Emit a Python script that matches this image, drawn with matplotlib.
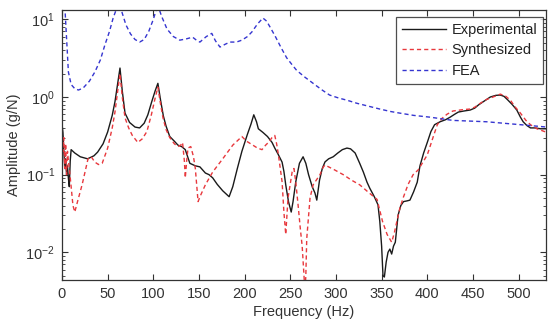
import numpy as np
import matplotlib
matplotlib.use("Agg")
import matplotlib.pyplot as plt
from matplotlib.ticker import LogLocator, FixedLocator, NullFormatter

plt.rcParams['font.family'] = ['Liberation Sans', 'DejaVu Sans']
plt.rcParams['mathtext.default'] = 'regular'

# ---------------- data ----------------
exp_f = [0, 1, 2, 3, 4, 5, 6, 7, 8, 9, 10, 12, 14, 20, 28, 35, 39, 45, 50, 55, 58, 61, 63.5, 66,
         69, 74, 80, 85, 90, 94, 98, 102, 105, 108, 111, 114, 118, 123, 127, 131, 135, 140, 146,
         151, 157, 161, 165, 170, 176, 180, 183, 187, 192, 197, 203, 207, 210, 213, 215, 220, 225,
         230, 233, 237, 241, 243, 245, 248, 251, 253, 256, 260, 264, 267, 270, 274, 277, 279, 282,
         285, 288, 292, 297, 302, 307, 312, 316, 321, 326, 330, 334, 337, 342, 346, 348, 350, 351.5,
         353, 355, 357, 359, 361, 363, 365, 368, 371, 374, 378, 381, 385, 389, 392, 396, 400, 404,
         408, 414, 420, 425, 430, 434, 440, 447, 452, 456, 462, 469, 475, 480, 484, 488, 493, 498,
         502, 505, 509, 513, 518, 524, 530]
exp_a = [0.45, 0.35, 0.2, 0.12, 0.16, 0.1, 0.13, 0.09, 0.07, 0.15, 0.21, 0.2, 0.19, 0.17, 0.16,
         0.175, 0.195, 0.25, 0.355, 0.58, 0.87, 1.5, 2.36, 1.2, 0.62, 0.47, 0.41, 0.40, 0.46, 0.59,
         0.85, 1.2, 1.5, 0.9, 0.57, 0.42, 0.31, 0.27, 0.24, 0.23, 0.21, 0.14, 0.13, 0.126, 0.105,
         0.1, 0.091, 0.075, 0.062, 0.056, 0.052, 0.07, 0.12, 0.2, 0.33, 0.45, 0.59, 0.48, 0.39, 0.35,
         0.31, 0.26, 0.22, 0.18, 0.145, 0.11, 0.074, 0.045, 0.033, 0.045, 0.081, 0.14, 0.17, 0.14,
         0.1, 0.07, 0.058, 0.047, 0.085, 0.12, 0.146, 0.16, 0.17, 0.19, 0.21, 0.22, 0.215, 0.19,
         0.14, 0.108, 0.08, 0.067, 0.052, 0.041, 0.025, 0.012, 0.005, 0.0048, 0.0075, 0.01, 0.011,
         0.0095, 0.012, 0.0135, 0.03, 0.04, 0.045, 0.046, 0.047, 0.06, 0.08, 0.13, 0.19, 0.26, 0.36,
         0.44, 0.48, 0.51, 0.55, 0.6, 0.64, 0.66, 0.68, 0.72, 0.79, 0.88, 1.0, 1.05, 1.06, 1.02,
         0.92, 0.8, 0.68, 0.55, 0.48, 0.43, 0.4, 0.4, 0.39, 0.39]

syn_f = [0, 1, 2, 3, 4, 5, 6, 7, 8, 10, 12, 14, 17, 22, 28.5, 32, 36, 40, 44, 50, 55, 58, 61, 63.5,
         66, 69, 73, 77, 83, 88, 93, 98, 102, 105, 108, 110.6, 114, 118, 123, 127, 130, 132, 134,
         135, 136.5, 138, 141, 144, 146, 149, 152, 157, 165, 176, 187, 197, 202, 209, 214, 219, 223,
         226, 230, 233, 235, 237, 241, 243, 245, 247.5, 252, 254, 256, 258.5, 261, 263, 265, 266,
         267, 268, 271.6, 275, 282.5, 286, 288, 298, 308, 317, 326, 335, 345, 351, 356, 361, 364,
         367, 370, 373.5, 379, 384.5, 390, 396, 400, 403, 407, 411, 416, 421.6, 428, 440, 447, 452,
         458, 465, 472, 480, 486, 491, 496, 502, 508, 513, 520, 531]
syn_a = [0.4, 0.2, 0.3, 0.12, 0.25, 0.1, 0.2, 0.15, 0.12, 0.07, 0.04, 0.033, 0.045, 0.074, 0.16,
         0.17, 0.145, 0.135, 0.14, 0.22, 0.4, 0.64, 1.2, 2.0, 1.0, 0.54, 0.4, 0.32, 0.26, 0.29,
         0.36, 0.6, 0.97, 1.34, 0.8, 0.54, 0.38, 0.3, 0.25, 0.23, 0.24, 0.26, 0.15, 0.091, 0.15,
         0.22, 0.23, 0.17, 0.12, 0.045, 0.055, 0.074, 0.108, 0.16, 0.24, 0.31, 0.27, 0.24, 0.22,
         0.21, 0.24, 0.26, 0.3, 0.32, 0.25, 0.18, 0.081, 0.033, 0.017, 0.05, 0.108, 0.12, 0.08,
         0.041, 0.02, 0.012, 0.005, 0.003, 0.005, 0.015, 0.05, 0.074, 0.1, 0.125, 0.133, 0.116,
         0.1, 0.085, 0.074, 0.06, 0.048, 0.025, 0.017, 0.0135, 0.018, 0.026, 0.037, 0.05, 0.075,
         0.1, 0.115, 0.15, 0.18, 0.23, 0.32, 0.44, 0.53, 0.6, 0.66, 0.69, 0.7, 0.74, 0.83, 0.93,
         1.0, 1.09, 1.02, 0.91, 0.75, 0.62, 0.5, 0.44, 0.39, 0.35]

fea_f = [0.5, 2, 3.5, 5, 7, 10, 14, 18, 23, 30, 36, 42, 47, 52, 56, 59, 61, 63, 66, 70, 75, 80, 85,
         90, 95, 100, 103, 106, 109, 115, 122, 129, 136, 143, 148, 151, 158, 164, 168, 173, 179, 184,
         191, 197, 203, 208, 214, 220, 224, 228, 234, 240, 246, 252, 257, 266, 275, 284, 293, 303,
         312, 323, 334, 348, 360, 370, 385, 403, 428, 465, 502, 531]
fea_a = [1000, 40, 12, 5.7, 2.1, 1.45, 1.28, 1.23, 1.3, 1.6, 2.1, 3.0, 4.7, 7, 10.4, 13, 15, 16,
         12, 8.5, 6.5, 5.5, 5.1, 5.5, 7, 10, 13, 14, 11, 7.5, 6, 5.4, 5.6, 5.9, 5.3, 5.1, 6, 6.6,
         5.3, 4.4, 4.8, 5.1, 5.1, 5.4, 6, 6.9, 8.7, 10.4, 9.5, 7.9, 5.9, 4.3, 3.2, 2.6, 2.2, 1.8,
         1.5, 1.25, 1.06, 0.97, 0.91, 0.83, 0.77, 0.7, 0.65, 0.62, 0.58, 0.55, 0.5, 0.48, 0.44, 0.41]

x_ticks = [0, 50, 100, 150, 200, 250, 300, 350, 400, 450, 500]
labels = ['Experimental', 'Synthesized', 'FEA']

# ---------------- figure ----------------
fig = plt.figure(figsize=(5.48, 3.25), dpi=100)
ax = fig.add_axes([62/548, 1 - 280/325, (546 - 62)/548, (280 - 10)/325])

ax.plot(exp_f, exp_a, color='#1a1a1a', lw=1.0, label=labels[0])
ax.plot(syn_f, syn_a, color='#e8383d', lw=1.0, dashes=(3, 2.2), label=labels[1])
ax.plot(fea_f, fea_a, color='#3535d0', lw=1.0, dashes=(3, 2.2), label=labels[2])

ax.set_yscale('log')
ax.set_xlim(0, 530)
ax.set_ylim(0.0044, 13.2)
ax.xaxis.set_major_locator(FixedLocator(x_ticks))
ax.yaxis.set_major_locator(LogLocator(base=10, numticks=10))
ax.yaxis.set_minor_locator(LogLocator(base=10, subs=np.arange(2, 10), numticks=20))
ax.yaxis.set_minor_formatter(NullFormatter())

tc = '#333333'
for s in ax.spines.values():
    s.set_color('#333333')
    s.set_linewidth(0.9)
ax.tick_params(which='both', direction='in', top=True, right=True, colors=tc,
               labelsize=10.5, labelcolor='#333333')
ax.tick_params(which='major', length=4.5, pad=5)
ax.tick_params(which='minor', length=2.5)

ax.set_xlabel('Frequency (Hz)', fontsize=10.5, color='#333333', labelpad=3)
ax.set_ylabel('Amplitude (g/N)', fontsize=10.5, color='#333333', labelpad=3)

leg = ax.legend(loc='upper right', bbox_to_anchor=(0.9938, 0.974), borderaxespad=0,
                fontsize=10.5, fancybox=False, frameon=True, handlelength=3.0,
                handletextpad=0.4, labelspacing=0.45, borderpad=0.4)
leg.get_frame().set_edgecolor('#222222')
leg.get_frame().set_linewidth(0.9)
for t in leg.get_texts():
    t.set_color('#222222')

fig.savefig('out.png', dpi=100)
